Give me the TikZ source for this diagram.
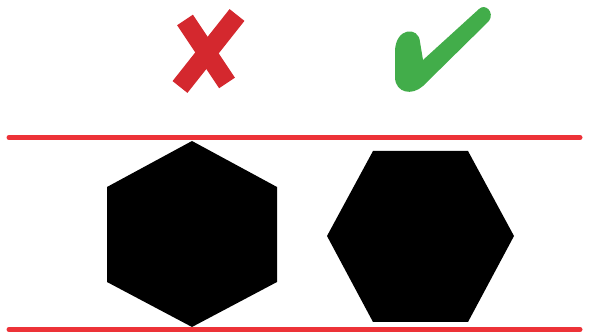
\documentclass[tikz,border=0pt]{standalone}
\usepackage{xcolor}
\usepackage{tikz}
\definecolor{linered}{RGB}{237,50,56}
\definecolor{crossred}{RGB}{212,40,46}
\definecolor{checkgreen}{RGB}{66,173,74}

\begin{document}
\begin{tikzpicture}[x=1pt,y=-1pt,line width=0.4pt]
  \useasboundingbox (0,0) rectangle (590,336);
  % cross
  \draw[crossred,line width=19pt] (185,20) -- (227,83);
  \draw[crossred,line width=19pt] (237,15) -- (180,87);
  % check
  \fill[checkgreen] (423,60) -- (479,9)
    .. controls (485,3) and (495,12) .. (489,21) -- (423,86)
    .. controls (412,96) and (396,93) .. (395,78) -- (395,52)
    .. controls (395,27) and (419,26) .. (420,42) -- cycle;
  % hexagons
  \fill (192,141) -- (277,187) -- (277,282) -- (192,327)
    -- (107,282) -- (107,187) -- cycle;
  \fill (373,151) -- (468,151) -- (514,236) -- (468,322)
    -- (373,322) -- (327,236) -- cycle;
  % red lines
  \draw[linered,line width=5pt,line cap=round] (9,137.5) -- (580,137.5);
  \draw[linered,line width=5pt,line cap=round] (9,329.5) -- (580,329.5);
\end{tikzpicture}
\end{document}
